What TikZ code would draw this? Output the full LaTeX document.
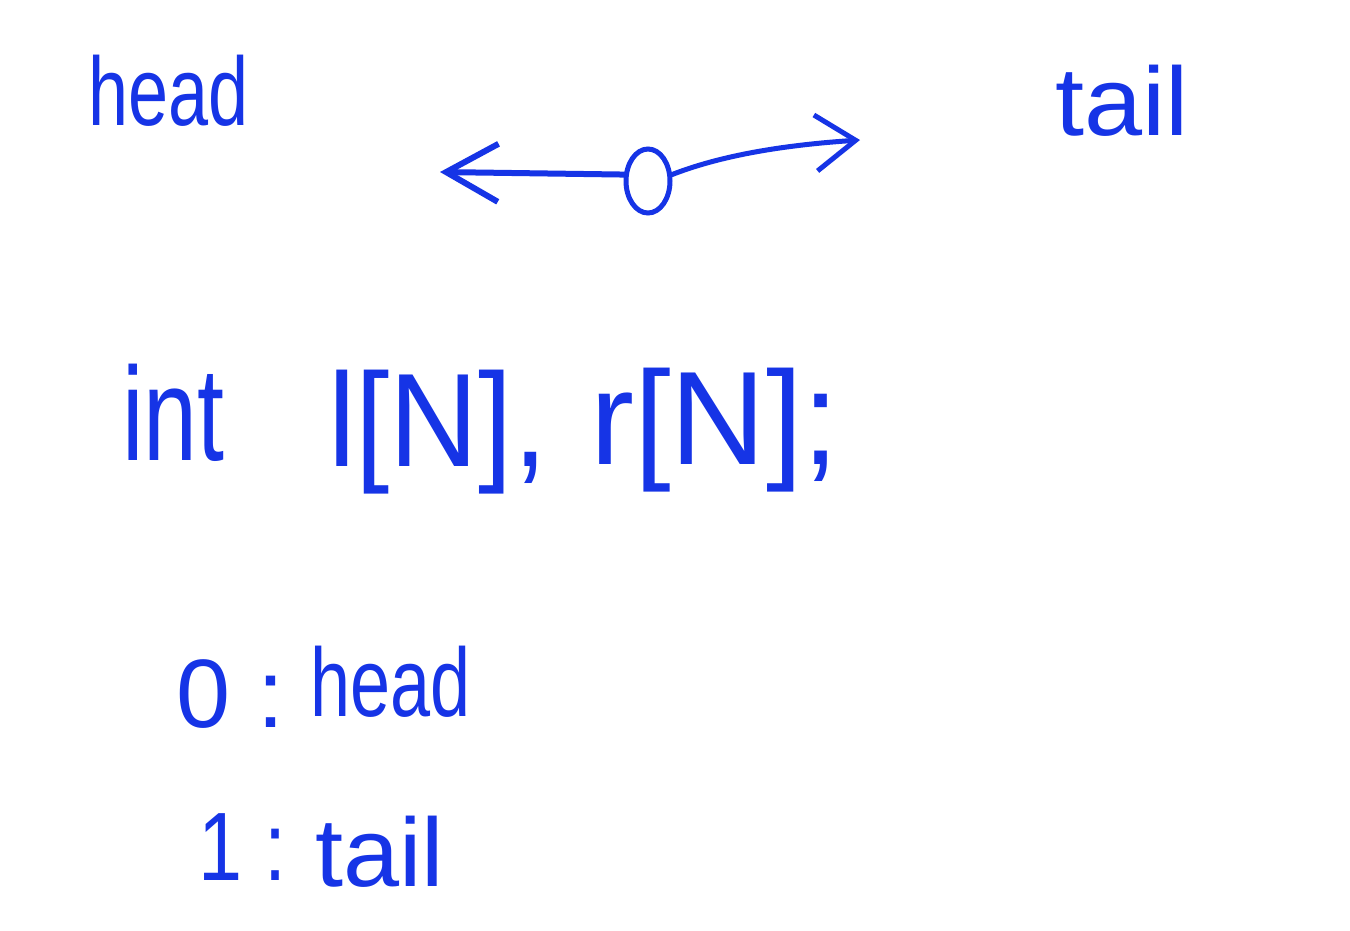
\documentclass[tikz,border=0pt]{standalone}
\usepackage{fontspec}
\setmainfont{Liberation Sans}
\usetikzlibrary{arrows.meta,shapes.geometric}
\definecolor{ink}{RGB}{22,52,230}
\tikzset{
  hw/.style={text=ink, inner sep=0pt, anchor=base west, font=\fontsize{72}{80}\selectfont, yscale=1.35},
  hwbig/.style={hw, font=\fontsize{88}{96}\selectfont, yscale=1.12},
  stroke/.style={draw=ink, line width=6pt, line cap=round, line join=round},
}
\begin{document}
\begin{tikzpicture}[x=1pt,y=-1pt]
\useasboundingbox[fill=white] (0,0) rectangle (1350,930);
% top labels
\node[hw] (headT) at (88,125) {head};
\node[hw, xscale=1.45] (tailT) at (1055,135) {tail};
% node with two pointers
\node[draw=ink, line width=5pt, ellipse, minimum width=44pt, minimum height=64pt, inner sep=0pt] (c) at (648,181) {};
\coordinate (L) at (440,172);
\coordinate (R) at (860,140);
\draw[stroke, -{Straight Barb[length=52pt,width=58pt,line width=6pt]}] (c.165) -- (L);
\draw[stroke, line width=5pt, -{Straight Barb[length=40pt,width=56pt,line width=5pt]}] (c.15) .. controls (730,152) and (800,144) .. (R);
% declaration
\node[hwbig, xscale=1.1] (int) at (122,460) {int};
\node[hwbig, xscale=1.4] (l) at (328,466) {l[N],};
\node[hwbig, xscale=1.5] (r) at (590,464) {r[N];};
% legend
\node[hw, xscale=1.35] (zero) at (176,727) {0 :};
\node[hw] (head2) at (310,716) {head};
\node[hw, xscale=1.1] (one) at (198,880) {1 :};
\node[hw, xscale=1.4] (tail2) at (315,886) {tail};
\end{tikzpicture}
\end{document}
